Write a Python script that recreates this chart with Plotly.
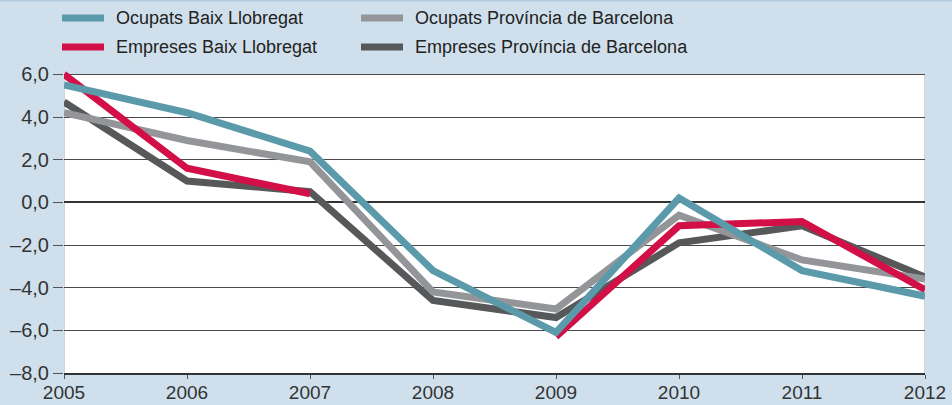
import plotly.graph_objects as go

# Annual change (%) 2005-2012
years = [2005, 2006, 2007, 2008, 2009, 2010, 2011, 2012]

ocupats_baix = [5.5, 4.2, 2.4, -3.2, -6.1, 0.2, -3.2, -4.4]
ocupats_prov = [4.2, 2.9, 1.9, -4.2, -5.0, -0.6, -2.7, -3.6]
empreses_baix = [6.0, 1.6, 0.4, None, -6.3, -1.1, -0.9, -4.1]
empreses_prov = [4.7, 1.0, 0.5, -4.6, -5.4, -1.9, -1.1, -3.5]

y_ticks = [-8, -6, -4, -2, 0, 2, 4, 6]
y_tick_text = ["–8,0", "–6,0", "–4,0", "–2,0", "0,0", "2,0", "4,0", "6,0"]

series = [
    ("Ocupats Baix Llobregat", ocupats_baix, "#5a9aab"),
    ("Ocupats Província de Barcelona", ocupats_prov, "#949598"),
    ("Empreses Baix Llobregat", empreses_baix, "#d20f46"),
    ("Empreses Província de Barcelona", empreses_prov, "#57585a"),
]

BG = "#cfe0ec"
FONT = "Liberation Sans, Arial, sans-serif"

fig = go.Figure()

# draw order: darker province series underneath, Baix Llobregat on top
for idx in [3, 1, 2, 0]:
    name, vals, color = series[idx]
    fig.add_trace(go.Scatter(
        x=years, y=vals, name=name, mode="lines",
        line=dict(color=color, width=7),
        showlegend=False, connectgaps=False,
    ))

# white plotting panel
fig.add_shape(type="rect", xref="x", yref="y", x0=years[0], x1=years[-1],
              y0=y_ticks[0], y1=y_ticks[-1], fillcolor="white",
              line=dict(width=0), layer="below")
# light frame at both sides of the panel
for xv in (years[0], years[-1]):
    fig.add_shape(type="line", xref="x", yref="y", x0=xv, x1=xv,
                  y0=y_ticks[0], y1=y_ticks[-1],
                  line=dict(color="#c4c6c8", width=1.5), layer="below")

# legend built as swatches + labels, two columns by two rows
plot_w = 952 - 64 - 27
plot_h = 405 - 69 - 32
col_px = [62, 361]
row_px = [18, 47]
legend_pos = [(0, 0), (1, 0), (0, 1), (1, 1)]
for (name, vals, color), (c, r) in zip(series, legend_pos):
    x0 = (col_px[c] - 64) / plot_w
    x1 = (col_px[c] + 42 - 64) / plot_w
    yy = (373 - row_px[r]) / plot_h
    fig.add_shape(type="line", xref="paper", yref="paper", x0=x0, x1=x1,
                  y0=yy, y1=yy, line=dict(color=color, width=7))
    fig.add_annotation(xref="paper", yref="paper", x=(col_px[c] + 52 - 64) / plot_w,
                       y=yy, text=name, showarrow=False, xanchor="left",
                       yanchor="middle", font=dict(family=FONT, size=18, color="#222"))

# thin band along the top edge
fig.add_shape(type="line", xref="paper", yref="paper", x0=-0.08, x1=1.04,
              y0=(373 - 0.5) / plot_h, y1=(373 - 0.5) / plot_h,
              line=dict(color="#b3cbdd", width=2))

fig.update_layout(
    width=952, height=405,
    margin=dict(l=64, r=27, t=69, b=32, autoexpand=False),
    paper_bgcolor=BG, plot_bgcolor=BG,
    font=dict(family=FONT, size=20, color="#333"),
    showlegend=False,
)
fig.update_xaxes(
    range=[years[0], years[-1]], tickvals=years, ticktext=[str(y) for y in years],
    showgrid=False, zeroline=False, showline=True, linecolor="#333", linewidth=1.5,
    ticks="outside", ticklen=4, tickcolor="#555", tickwidth=1, automargin=False,
    ticklabelstandoff=-3,
    tickfont=dict(family=FONT, size=19, color="#333"),
)
fig.update_yaxes(
    range=[y_ticks[0], 6.25], tickvals=y_ticks, ticktext=y_tick_text,
    showgrid=True, gridcolor="#4a4a4a", gridwidth=1,
    zeroline=True, zerolinecolor="#333", zerolinewidth=2, automargin=False,
    showline=False, ticks="outside", ticklen=10, tickcolor="#555", tickwidth=1,
    tickfont=dict(family=FONT, size=20, color="#333"),
)

fig.write_html("out.html")
